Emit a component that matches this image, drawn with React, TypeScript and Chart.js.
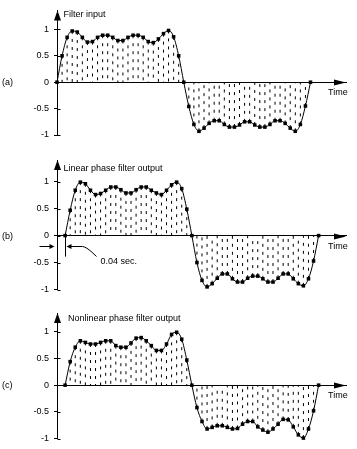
import React, { useEffect, useRef } from 'react';
import { Chart, registerables } from 'chart.js';

Chart.register(...registerables);

// ---- data ----
const INPUT = [
  0, 0.5, 0.85, 0.97, 0.95, 0.85, 0.76, 0.77, 0.85, 0.89, 0.89, 0.85, 0.79, 0.79, 0.85, 0.89, 0.89, 0.85, 0.77, 0.75, 0.82, 0.92, 0.98, 0.86, 0.5, 0,
  -0.46, -0.8, -0.93, -0.87, -0.78, -0.73, -0.73, -0.8, -0.85, -0.85, -0.81, -0.75, -0.75, -0.81, -0.85, -0.85, -0.8, -0.73, -0.73, -0.78, -0.87, -0.93, -0.8, -0.45, 0,
];
const LINEAR_OUT = [
  0, 0.47, 0.84, 0.99, 0.96, 0.84, 0.76, 0.78, 0.84, 0.9, 0.9, 0.85, 0.79, 0.79, 0.85, 0.9, 0.9, 0.84, 0.79, 0.76, 0.84, 0.94, 0.99, 0.87, 0.49, 0,
  -0.5, -0.83, -0.95, -0.89, -0.79, -0.71, -0.71, -0.8, -0.86, -0.86, -0.79, -0.75, -0.75, -0.8, -0.86, -0.86, -0.79, -0.71, -0.71, -0.8, -0.89, -0.93, -0.8, -0.47, 0,
];
const NONLINEAR_OUT = [
  0, 0.44, 0.71, 0.83, 0.8, 0.77, 0.77, 0.8, 0.83, 0.83, 0.74, 0.71, 0.71, 0.79, 0.88, 0.89, 0.83, 0.74, 0.65, 0.65, 0.77, 0.95, 0.99, 0.86, 0.47, 0,
  -0.42, -0.68, -0.82, -0.79, -0.76, -0.76, -0.79, -0.82, -0.81, -0.73, -0.68, -0.68, -0.78, -0.84, -0.88, -0.82, -0.73, -0.64, -0.65, -0.78, -0.93, -0.99, -0.82, -0.48, 0,
];
const Y_TICKS = [-1, -0.5, 0, 0.5, 1];
const TITLES = ['Filter input', 'Linear phase filter output', 'Nonlinear phase filter output'];
const PANEL_TAGS = ['(a)', '(b)', '(c)'];
const X_LABEL = 'Time';
const DELAY_LABEL = '0.04 sec.';
const INPUT_START = 0; // sample index
const OUTPUT_START = 1.6; // sample index (0.04 sec delay)
const X_MAX = 57;

const FAMILY = '"Liberation Sans", Arial, sans-serif';
const FONT = `9px ${FAMILY}`;

type PanelCfg = {
  values: number[];
  start: number;
  title: string;
  tag: string;
  top: number;
  height: number;
  padTop: number;
  padBottom: number;
  yMax: number;
  titleDx: number;
  titleDy: number;
  delayMark: boolean;
};

const PANELS: PanelCfg[] = [
  { values: INPUT, start: INPUT_START, title: TITLES[0], tag: PANEL_TAGS[0], top: 0, height: 149, padTop: 5, padBottom: 14, yMax: 1.36, titleDx: 6, titleDy: 4, delayMark: false },
  { values: LINEAR_OUT, start: OUTPUT_START, title: TITLES[1], tag: PANEL_TAGS[1], top: 149, height: 151, padTop: 11, padBottom: 9, yMax: 1.4, titleDx: 6, titleDy: 8.5, delayMark: true },
  { values: NONLINEAR_OUT, start: OUTPUT_START, title: TITLES[2], tag: PANEL_TAGS[2], top: 300, height: 149, padTop: 13, padBottom: 7, yMax: 1.35, titleDx: 10.5, titleDy: 6, delayMark: false },
];

function line(ctx: CanvasRenderingContext2D, x1: number, y1: number, x2: number, y2: number) {
  ctx.beginPath();
  ctx.moveTo(x1, y1);
  ctx.lineTo(x2, y2);
  ctx.stroke();
}

function tri(ctx: CanvasRenderingContext2D, pts: number[][]) {
  ctx.beginPath();
  ctx.moveTo(pts[0][0], pts[0][1]);
  ctx.lineTo(pts[1][0], pts[1][1]);
  ctx.lineTo(pts[2][0], pts[2][1]);
  ctx.closePath();
  ctx.fill();
}

function Panel({ cfg }: { cfg: PanelCfg }) {
  const ref = useRef<HTMLCanvasElement>(null);
  useEffect(() => {
    const canvas = ref.current!;
    const pts = cfg.values.map((v, i) => ({ x: cfg.start + i, y: v }));
    const stems: any[] = [];
    pts.forEach((p) => {
      stems.push({ x: p.x, y: p.y }, { x: p.x, y: 0 }, { x: p.x, y: null });
    });

    const overlay = {
      id: 'overlay',
      afterDatasetsDraw(chart: any) {
        const { ctx, chartArea } = chart;
        const xs = chart.scales.x;
        const ys = chart.scales.y;
        const ax = Math.round(chartArea.left) + 0.5;
        const zeroY = Math.round(ys.getPixelForValue(0)) + 0.5;
        ctx.save();
        ctx.fillStyle = '#000';
        ctx.strokeStyle = '#000';
        ctx.lineWidth = 1;
        ctx.setLineDash([]);
        // y-axis arrowhead
        tri(ctx, [[ax, chartArea.top], [ax - 3.5, chartArea.top + 10], [ax + 3.5, chartArea.top + 10]]);
        // x-axis arrowhead
        const r = chartArea.right;
        tri(ctx, [[r, zeroY], [r - 12, zeroY - 3], [r - 12, zeroY + 3]]);
        // inner half of tick marks
        Y_TICKS.forEach((t) => {
          const py = Math.round(ys.getPixelForValue(t)) + 0.5;
          line(ctx, ax, py, ax + 3, py);
        });
        ctx.font = FONT;
        ctx.textBaseline = 'middle';
        ctx.textAlign = 'left';
        ctx.fillText(cfg.title, ax + cfg.titleDx, chartArea.top + cfg.titleDy);
        ctx.fillText(cfg.tag, 2, zeroY);
        ctx.fillText(X_LABEL, r - 18, zeroY + 10);
        if (cfg.delayMark) {
          const fx = Math.round(xs.getPixelForValue(cfg.start)) + 0.5;
          const ay = Math.round(ys.getPixelForValue(-0.2)) + 0.5;
          line(ctx, fx, zeroY, fx, ys.getPixelForValue(-0.39));
          line(ctx, ax - 18, ay, ax - 6, ay);
          tri(ctx, [[ax - 3, ay], [ax - 8, ay - 2.5], [ax - 8, ay + 2.5]]);
          tri(ctx, [[fx + 1, ay], [fx + 6, ay - 2.5], [fx + 6, ay + 2.5]]);
          ctx.beginPath();
          ctx.moveTo(fx + 5, ay);
          ctx.lineTo(fx + 17, ay);
          ctx.quadraticCurveTo(fx + 21, ay, fx + 31, ay + 10);
          ctx.stroke();
          ctx.fillText(DELAY_LABEL, fx + 35, ys.getPixelForValue(-0.48));
        }
        ctx.restore();
      },
    };

    const chart = new Chart(canvas, {
      type: 'line',
      data: {
        datasets: [
          {
            data: stems,
            borderColor: '#000',
            borderWidth: 1,
            borderDash: [3, 5],
            pointRadius: 0,
            spanGaps: false,
            tension: 0,
            clip: false,
            order: 2,
          } as any,
          {
            data: pts,
            borderColor: '#000',
            borderWidth: 1,
            cubicInterpolationMode: 'monotone',
            pointStyle: 'rect',
            pointRadius: 2.5,
            pointBackgroundColor: '#000',
            pointBorderWidth: 0,
            clip: false,
            order: 1,
          } as any,
        ],
      },
      options: {
        responsive: false,
        animation: false,
        devicePixelRatio: 1,
        events: [],
        layout: { padding: { top: cfg.padTop, bottom: cfg.padBottom, left: 0, right: 11 } },
        plugins: { legend: { display: false }, tooltip: { enabled: false }, title: { display: false } },
        scales: {
          x: {
            type: 'linear',
            axis: 'x',
            position: { y: 0 },
            min: 0,
            max: X_MAX,
            grid: { display: false, drawTicks: false },
            ticks: { display: false },
            border: { display: true, color: '#000', width: 1 },
            afterFit: (s: any) => { s.height = 0; },
          },
          y: {
            type: 'linear',
            position: 'left',
            min: -1,
            max: cfg.yMax,
            afterBuildTicks: (s: any) => { s.ticks = Y_TICKS.map((v) => ({ value: v })); },
            afterFit: (s: any) => { s.width = 57; },
            grid: { display: true, drawOnChartArea: false, drawTicks: true, tickLength: 3, color: '#000', lineWidth: 1 },
            border: { display: true, color: '#000', width: 1 },
            ticks: { color: '#000', font: { family: FAMILY, size: 9 }, padding: 5, callback: (v: any) => String(v) },
          },
        },
      } as any,
      plugins: [overlay],
    });
    return () => chart.destroy();
  }, [cfg]);
  return (
    <canvas
      ref={ref}
      width={357}
      height={cfg.height}
      style={{ position: 'absolute', left: 0, top: cfg.top, width: 357, height: cfg.height }}
    />
  );
}

export default function App() {
  return (
    <div style={{ position: 'absolute', left: 0, top: 0, width: 357, height: 449, background: '#fff', overflow: 'hidden' }}>
      {PANELS.map((p, i) => (
        <Panel key={i} cfg={p} />
      ))}
    </div>
  );
}
